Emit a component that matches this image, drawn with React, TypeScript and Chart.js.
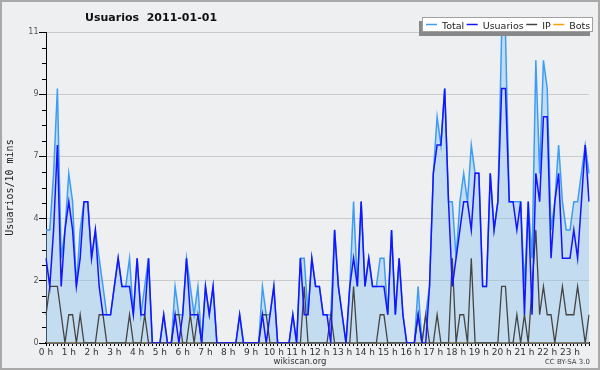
import { useEffect, useRef } from 'react';
import { Chart, registerables } from 'chart.js';

Chart.register(...registerables);

const chartTitle = 'Usuarios  2011-01-01';
const yTitle = 'Usuarios/10 mins';
const footerCenter = 'wikiscan.org';
const footerRight = 'CC BY-SA 3.0';

const hourLabels = [
  '0 h', '1 h', '2 h', '3 h', '4 h', '5 h', '6 h', '7 h', '8 h', '9 h', '10 h', '11 h',
  '12 h', '13 h', '14 h', '15 h', '16 h', '17 h', '18 h', '19 h', '20 h', '21 h', '22 h', '23 h',
];

const seriesNames = ['Total', 'Usuarios', 'IP', 'Bots'];

const total = [
  4, 4, 6, 9, 3, 4, 6, 5, 2, 4,
  5, 5, 3, 4, 3, 2, 1, 1, 2, 3,
  2, 2, 3, 1, 3, 1, 2, 3, 0, 0,
  0, 1, 0, 0, 2, 1, 1, 3, 2, 1,
  2, 0, 2, 1, 2, 0, 0, 0, 0, 0,
  0, 1, 0, 0, 0, 0, 0, 2, 1, 1,
  2, 0, 0, 0, 0, 1, 0, 3, 3, 1,
  3, 2, 2, 1, 1, 1, 4, 2, 1, 0,
  2, 5, 2, 5, 2, 3, 2, 2, 3, 3,
  1, 4, 1, 3, 1, 0, 0, 0, 2, 0,
  1, 2, 6, 8, 7, 9, 5, 5, 3, 5,
  6, 5, 7, 6, 6, 2, 2, 6, 4, 5,
  11, 11, 5, 5, 5, 5, 2, 5, 3, 10,
  6, 10, 9, 4, 5, 7, 5, 4, 4, 5,
  5, 6, 7, 6,
];

const usuarios = [
  3, 2, 4, 7, 2, 4, 5, 4, 2, 3,
  5, 5, 3, 4, 2, 1, 1, 1, 2, 3,
  2, 2, 2, 1, 3, 1, 1, 3, 0, 0,
  0, 1, 0, 0, 1, 0, 1, 3, 1, 1,
  1, 0, 2, 1, 2, 0, 0, 0, 0, 0,
  0, 1, 0, 0, 0, 0, 0, 1, 0, 1,
  2, 0, 0, 0, 0, 1, 0, 3, 1, 1,
  3, 2, 2, 1, 1, 0, 4, 2, 1, 0,
  2, 3, 2, 5, 2, 3, 2, 2, 2, 2,
  1, 4, 1, 3, 1, 0, 0, 0, 1, 0,
  0, 2, 6, 7, 7, 9, 5, 2, 3, 4,
  5, 5, 4, 6, 6, 2, 2, 6, 4, 5,
  9, 9, 5, 5, 4, 5, 1, 5, 1, 6,
  5, 8, 8, 3, 5, 6, 3, 3, 3, 4,
  3, 5, 7, 5,
];

const ip = [
  1, 2, 2, 2, 1, 0, 1, 1, 0, 1,
  0, 0, 0, 0, 1, 1, 0, 0, 0, 0,
  0, 0, 1, 0, 0, 0, 1, 0, 0, 0,
  0, 0, 0, 0, 1, 1, 0, 0, 1, 0,
  1, 0, 0, 0, 0, 0, 0, 0, 0, 0,
  0, 0, 0, 0, 0, 0, 0, 1, 1, 0,
  0, 0, 0, 0, 0, 0, 0, 0, 2, 0,
  0, 0, 0, 0, 0, 1, 0, 0, 0, 0,
  0, 2, 0, 0, 0, 0, 0, 0, 1, 1,
  0, 0, 0, 0, 0, 0, 0, 0, 1, 0,
  1, 0, 0, 1, 0, 0, 0, 3, 0, 1,
  1, 0, 3, 0, 0, 0, 0, 0, 0, 0,
  2, 2, 0, 0, 1, 0, 1, 0, 2, 4,
  1, 2, 1, 1, 0, 1, 2, 1, 1, 1,
  2, 1, 0, 1,
];

const bots = [
  0, 0, 0, 0, 0, 0, 0, 0, 0, 0, 0, 0, 0, 0, 0, 0, 0, 0, 0, 0, 0, 0, 0, 0,
  0, 0, 0, 0, 0, 0, 0, 0, 0, 0, 0, 0, 0, 0, 0, 0, 0, 0, 0, 0, 0, 0, 0, 0,
  0, 0, 0, 0, 0, 0, 0, 0, 0, 0, 0, 0, 0, 0, 0, 0, 0, 0, 0, 0, 0, 0, 0, 0,
  0, 0, 0, 0, 0, 0, 0, 0, 0, 0, 0, 0, 0, 0, 0, 0, 0, 0, 0, 0, 0, 0, 0, 0,
  0, 0, 0, 0, 0, 0, 0, 0, 0, 0, 0, 0, 0, 0, 0, 0, 0, 0, 0, 0, 0, 0, 0, 0,
  0, 0, 0, 0, 0, 0, 0, 0, 0, 0, 0, 0, 0, 0, 0, 0, 0, 0, 0, 0, 0, 0, 0, 0,
];

const yMax = 11;

const COLORS = {
  bg: '#eeeff1',
  frame: '#a9a9a9',
  total: '#3d9cf5',
  totalFill: 'rgba(137,193,237,0.42)',
  usuarios: '#1414ff',
  ip: '#444444',
  bots: '#ff9c00',
  grid: '#cbcbcb',
};

const decorPlugin = {
  id: 'decor',
  beforeDraw(chart: any) {
    const { ctx, width, height } = chart;
    ctx.save();
    ctx.fillStyle = COLORS.bg;
    ctx.fillRect(0, 0, width, height);
    ctx.restore();
  },
  afterDraw(chart: any) {
    const { ctx, width, height, chartArea } = chart;
    const yScale = chart.scales.y;
    ctx.save();

    // minor ticks on y axis
    ctx.strokeStyle = '#000';
    ctx.lineWidth = 1;
    for (let k = 0; k <= 20; k++) {
      if (k % 4 === 0) continue;
      const y = Math.round(yScale.getPixelForValue((k * yMax) / 20)) + 0.5;
      ctx.beginPath();
      ctx.moveTo(chartArea.left - 4, y);
      ctx.lineTo(chartArea.left, y);
      ctx.stroke();
    }

    // frame
    ctx.strokeStyle = COLORS.frame;
    ctx.lineWidth = 2;
    ctx.strokeRect(1, 1, width - 2, height - 2);

    // title
    ctx.fillStyle = '#111';
    ctx.font = 'bold 11px "DejaVu Sans"';
    ctx.textAlign = 'left';
    ctx.textBaseline = 'alphabetic';
    ctx.fillText(chartTitle, 85, 21);

    // legend
    const lx = 422, ly = 17, lw = 171, lh = 15;
    ctx.fillStyle = '#888';
    ctx.fillRect(lx - 3, ly + 4, lw, lh);
    ctx.fillStyle = '#fff';
    ctx.fillRect(lx, ly, lw, lh);
    ctx.strokeStyle = '#a0a0a0';
    ctx.lineWidth = 1;
    ctx.strokeRect(lx + 0.5, ly + 0.5, lw - 1, lh - 1);
    ctx.font = '9.5px "DejaVu Sans"';
    let x = lx + 4;
    chart.data.datasets.forEach((ds: any) => {
      ctx.strokeStyle = ds.borderColor;
      ctx.lineWidth = 1.5;
      ctx.beginPath();
      ctx.moveTo(x, ly + 7.5);
      ctx.lineTo(x + 11, ly + 7.5);
      ctx.stroke();
      x += 16;
      ctx.fillStyle = '#222';
      ctx.fillText(ds.label, x, ly + 11.5);
      x += ctx.measureText(ds.label).width + 2.5;
    });

    // footer
    ctx.fillStyle = '#333';
    ctx.font = '8.5px "DejaVu Sans"';
    ctx.textAlign = 'center';
    ctx.fillText(footerCenter, 300, 364);
    ctx.font = '7px "DejaVu Sans"';
    ctx.textAlign = 'right';
    ctx.fillStyle = '#444';
    ctx.fillText(footerRight, 590, 364);
    ctx.restore();
  },
};

export default function App() {
  const ref = useRef<HTMLCanvasElement>(null);

  useEffect(() => {
    document.body.style.margin = '0';
    const slots = usuarios.map((_, i) => (i % 6 === 0 ? hourLabels[i / 6] : ''));
    const chart = new Chart(ref.current as HTMLCanvasElement, {
      type: 'line',
      data: {
        labels: slots,
        datasets: [
          {
            label: seriesNames[0],
            data: total,
            borderColor: COLORS.total,
            backgroundColor: COLORS.totalFill,
            fill: 'origin',
            borderWidth: 1.5,
            order: 3,
          },
          {
            label: seriesNames[1],
            data: usuarios,
            borderColor: COLORS.usuarios,
            backgroundColor: COLORS.usuarios,
            fill: false,
            borderWidth: 1.5,
            order: 1,
          },
          {
            label: seriesNames[2],
            data: ip,
            borderColor: COLORS.ip,
            backgroundColor: COLORS.ip,
            fill: false,
            borderWidth: 1.3,
            order: 2,
          },
          {
            label: seriesNames[3],
            data: bots,
            borderColor: COLORS.bots,
            backgroundColor: COLORS.bots,
            fill: false,
            borderWidth: 1,
            order: 4,
          },
        ],
      },
      options: {
        responsive: false,
        animation: false,
        devicePixelRatio: 1,
        layout: { padding: { left: 0, right: 11, top: 32, bottom: 0 } },
        elements: { point: { radius: 0 }, line: { tension: 0 } },
        plugins: {
          legend: { display: false },
          title: { display: false },
          tooltip: { enabled: false },
        },
        scales: {
          x: {
            type: 'category',
            offset: false,
            z: 1,
            grid: { drawOnChartArea: false, tickLength: 3, tickColor: '#000', tickWidth: 1 },
            border: { color: '#000', width: 1.5 },
            ticks: {
              autoSkip: false,
              maxRotation: 0,
              minRotation: 0,
              padding: 1,
              color: '#333',
              font: { family: 'DejaVu Sans', size: 9 },
              callback: (_v: any, i: number) => slots[i],
            },
            afterFit: (s: any) => {
              s.height = 27;
            },
          },
          y: {
            min: 0,
            max: yMax,
            ticks: {
              count: 6,
              padding: 0.5,
              color: '#555',
              font: { family: 'DejaVu Sans', size: 8 },
              callback: (v: any) => String(Math.round(Number(v))),
            },
            grid: { color: COLORS.grid, tickColor: '#000', tickLength: 7 },
            border: { color: '#000', width: 1 },
            title: {
              display: true,
              text: yTitle,
              color: '#222',
              font: { family: 'DejaVu Sans Mono', size: 10 },
              padding: { top: 4, bottom: 0 },
            },
            afterFit: (s: any) => {
              s.width = 46;
            },
          },
        },
      },
      plugins: [decorPlugin],
    } as any);
    return () => chart.destroy();
  }, []);

  return <canvas ref={ref} width={600} height={370} style={{ display: 'block' }} />;
}
